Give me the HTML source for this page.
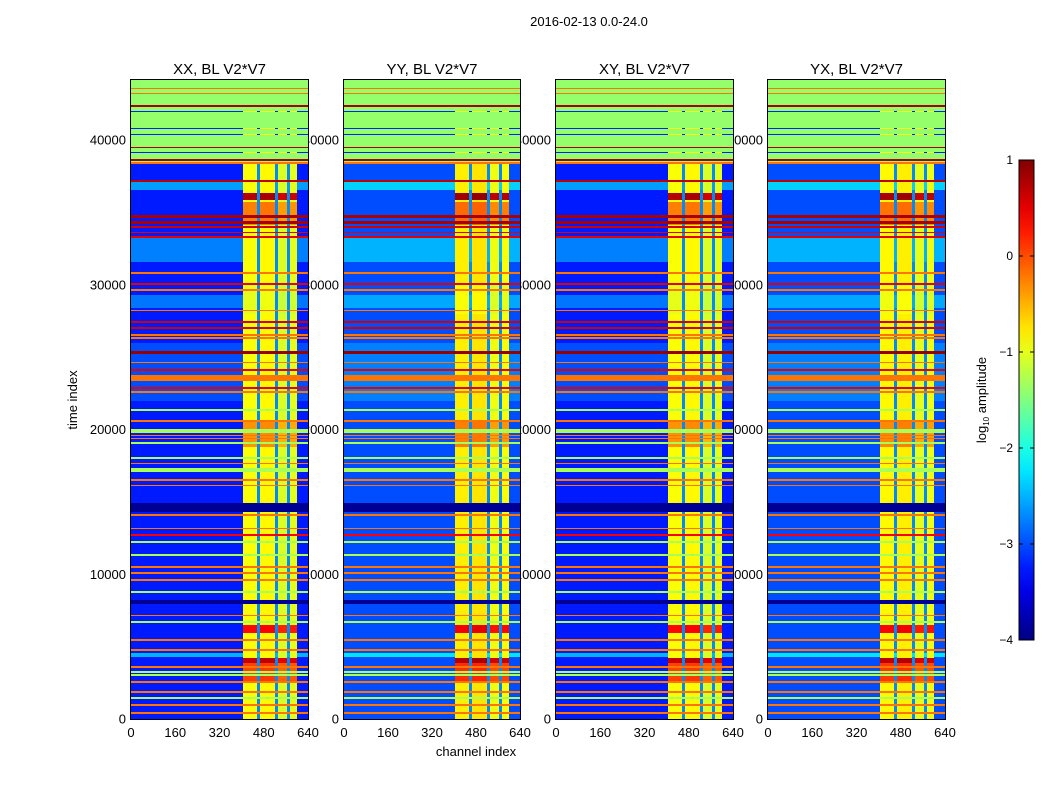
<!DOCTYPE html>
<html><head><meta charset="utf-8">
<style>
body{margin:0;background:#fff;width:1050px;height:800px;overflow:hidden;font-family:"Liberation Sans",sans-serif;}
#root{position:relative;width:1050px;height:800px;}
canvas{position:absolute;image-rendering:pixelated;}
svg{position:absolute;left:0;top:0;}
</style></head>
<body>
<div id="root">
<svg id="ov" width="1050" height="800"></svg>
</div>
<script>
// ---- data ----
const panelTitles = ["XX, BL V2*V7","YY, BL V2*V7","XY, BL V2*V7","YX, BL V2*V7"];
const panelBgShift = [0, 0.25, 0, 0.25];
const panelRfiShift = [0, 0.1, 0, 0.05];
const yTicks = [0,10000,20000,30000,40000];
const xTicks = [0,160,320,480,640];
const cbTicks = [1,0,-1,-2,-3,-4];
const flagStart = 38500;
const flagValue = -1.4;
// background bands [tStart, tEnd, value]
const bgBands = [[0,44150,-3.25],[36550,37100,-2.6],[31570,33230,-2.75],[28390,29290,-2.8],[4300,4550,-2.5],[22000,26000,-3.0]];
// RFI intensity bands [tStart, tEnd, value]
const rfiBands = [[0,44150,-0.95],[35850,36340,0.7],[34100,35700,-0.3],[18800,20590,-0.4],[5940,6490,0.3],[2490,4210,0.0],[3870,4210,0.6],[28000,30000,-1.05]];
// RFI channel columns [chStart, chEnd, offset]
const rfiCols = [[405,455,0.05],[467,520,0.1],[532,564,-0.1],[575,600,-0.05]];
const gapCols = [[455,467],[520,532],[564,575]];
const gapValue = -2.7;
// full-row stripes [time, width, value]
const stripes = [[38400,120,-0.2],[37165,100,0.7],[34700,200,0.8],[34300,250,0.8],[34000,150,0.6],[33640,80,0.5],[33300,80,0.5],
[30810,150,-0.2],[30050,80,0.5],[29640,100,-0.2],[28250,80,-0.2],[27425,80,0.6],[27010,80,0.6],[26530,80,-0.2],[26320,80,-0.2],
[25315,220,0.9],[24660,80,-0.2],[24110,80,0.5],[23555,400,-0.2],[22870,80,0.5],[22590,80,-0.2],
[21350,80,-1.3],[20590,80,-0.2],[19900,270,-1.3],[19620,70,-0.2],[19410,70,-0.2],[19070,80,-1.3],[18030,80,-1.3],[17680,80,-0.2],
[17200,280,-1.3],[16510,80,-0.2],[16160,80,-0.2],[14610,620,-3.9],[14090,80,-0.2],[13190,80,-0.2],[12710,80,0.4],[12230,80,-1.3],
[11330,80,-1.3],[10500,80,-0.2],[10090,80,-0.2],[9600,80,-0.2],[8770,80,-1.3],[8080,280,-3.9],[7180,80,-0.2],[6700,80,-1.3],
[5460,80,-0.2],[4770,80,-0.2],[3590,80,-0.2],[3250,80,-1.3],[3040,80,-1.3],[2560,80,-0.2],[1870,80,-0.2],[1450,80,-1.3],[970,80,-0.2],[410,80,-0.2]];
// stripes inside flagged region [time, width, value, bgOnly]
const flagStripes = [[43590,80,-0.2,0],[43240,80,-0.2,0],[42350,80,0.8,0],[42000,70,-3.2,1],[40830,70,-3.2,1],[40410,70,-3.2,1],[39510,80,0.8,0],[39170,70,-3.2,1],[38620,80,0.8,0]];

const T_MAX = 44150, CH_MAX = 640, V_MIN = -4, V_MAX = 1;
const panelX = [131,344,556,768], panelW = [177,176,177,177], panelTop = 80, panelBot = 719;

function jet(v){
  let t=(v-V_MIN)/(V_MAX-V_MIN); t=Math.max(0,Math.min(1,t));
  const c=x=>Math.round(255*Math.max(0,Math.min(1,x)));
  return [c(1.5-Math.abs(4*t-3)),c(1.5-Math.abs(4*t-2)),c(1.5-Math.abs(4*t-1))];
}
function inBand(list,t,def){let v=def;for(const b of list){if(t>=b[0]&&t<b[1])v=b[2];}return v;}
function colType(ch){
  for(const c of rfiCols) if(ch>=c[0]&&ch<c[1]) return {rfi:true,off:c[2]};
  for(const g of gapCols) if(ch>=g[0]&&ch<g[1]) return {gap:true};
  return {};
}
function value(p,t,ch){
  const ct=colType(ch);
  if(t>=flagStart){
    for(const s of flagStripes){ if(Math.abs(t-s[0])<=s[1]/2){ if(s[3]&&ct.rfi) return -0.9; return s[2]; } }
    return flagValue;
  }
  for(const s of stripes){ if(Math.abs(t-s[0])<=s[1]/2) return s[2]; }
  if(ct.rfi) return inBand(rfiBands,t,-0.95)+ct.off+panelRfiShift[p];
  const bg=inBand(bgBands,t,-3.25)+panelBgShift[p];
  if(ct.gap) return Math.max(bg,gapValue);
  return bg;
}
const root=document.getElementById('root');
const H=panelBot-panelTop;
const yPix=t=>panelBot-(t/T_MAX)*H;
for(let p=0;p<4;p++){
  const W=panelW[p];
  const cv=document.createElement('canvas');
  
  
  cv.width=W;cv.height=H;
  cv.style.left=panelX[p]+'px';cv.style.top=panelTop+'px';
  const ctx=cv.getContext('2d');const img=ctx.createImageData(W,H);
  for(let y=0;y<H;y++){
    const t=(H-y-0.5)/H*T_MAX;
    for(let x=0;x<W;x++){
      const ch=(x+0.5)/W*CH_MAX;
      const c=jet(value(p,t,ch));const i=(y*W+x)*4;
      img.data[i]=c[0];img.data[i+1]=c[1];img.data[i+2]=c[2];img.data[i+3]=255;
    }
  }
  ctx.putImageData(img,0,0);
  root.appendChild(cv);
}
// overlay
const NS='http://www.w3.org/2000/svg';
const ov=document.getElementById('ov');
function el(tag,attrs,txt){const e=document.createElementNS(NS,tag);for(const k in attrs)e.setAttribute(k,attrs[k]);if(txt!==undefined)e.textContent=txt;ov.appendChild(e);return e;}
let e;
e=el('text',{x:589,y:26,'font-size':13,'text-anchor':'middle'},'2016-02-13 0.0-24.0');


for(let p=0;p<4;p++){
  const x0=panelX[p],W=panelW[p];
  e=el('rect',{x:x0-0.5,y:panelTop-0.5,width:W+1,height:H+1,fill:'none',stroke:'#000','stroke-width':1});
  
  
  e=el('text',{x:x0+W/2,y:74,'font-size':15,'text-anchor':'middle'},panelTitles[p]);
  
  
  for(const v of yTicks){
    const y=yPix(v);
    el('line',{x1:x0,x2:x0+4,y1:y,y2:y,stroke:'#000'});
    el('line',{x1:x0+W-4,x2:x0+W,y1:y,y2:y,stroke:'#000'});
    e=el('text',{x:x0-5,y:y+4.5,'font-size':13,'text-anchor':'end'},String(v));
    
    
  }
  for(const v of xTicks){
    const x=x0+v/CH_MAX*W;
    el('line',{x1:x,x2:x,y1:panelBot,y2:panelBot-4,stroke:'#000'});
    el('line',{x1:x,x2:x,y1:panelTop,y2:panelTop+4,stroke:'#000'});
    e=el('text',{x:x,y:737,'font-size':13,'text-anchor':'middle'},String(v));
    
    
  }
}
e=el('text',{x:0,y:0,'font-size':13,'text-anchor':'middle',transform:'translate(77,400) rotate(-90)'},'time index');


e=el('text',{x:476,y:756,'font-size':13,'text-anchor':'middle'},'channel index');


// colorbar
const cbX=1019,cbW=15,cbTop=160,cbBot=640;
const defs=el('defs',{});
const grad=document.createElementNS(NS,'linearGradient');
grad.setAttribute('id','jetg');grad.setAttribute('x1','0');grad.setAttribute('y1','1');grad.setAttribute('x2','0');grad.setAttribute('y2','0');
defs.appendChild(grad);
for(let i=0;i<=20;i++){const c=jet(V_MIN+(V_MAX-V_MIN)*i/20);const s=document.createElementNS(NS,'stop');s.setAttribute('offset',i/20);s.setAttribute('stop-color','rgb('+c.join(',')+')');grad.appendChild(s);}
e=el('rect',{x:cbX,y:cbTop,width:cbW,height:cbBot-cbTop,fill:'url(#jetg)',stroke:'#000','stroke-width':1});


for(const v of cbTicks){
  const y=cbBot-(v-V_MIN)/(V_MAX-V_MIN)*(cbBot-cbTop);
  el('line',{x1:cbX,x2:cbX+4,y1:y,y2:y,stroke:'#000'});
  el('line',{x1:cbX+cbW-4,x2:cbX+cbW,y1:y,y2:y,stroke:'#000'});
  e=el('text',{x:1013,y:y+4,'font-size':12,'text-anchor':'end'},v<0?'\u2212'+Math.abs(v):String(v));
  
  
}
e=el('text',{x:0,y:0,'font-size':13,'text-anchor':'middle',transform:'translate(986,400) rotate(-90)'});


const ts1=document.createElementNS(NS,'tspan');ts1.textContent='log';e.appendChild(ts1);
const ts2=document.createElementNS(NS,'tspan');ts2.setAttribute('font-size','8');ts2.setAttribute('dy','3');ts2.textContent='10';e.appendChild(ts2);
const ts3=document.createElementNS(NS,'tspan');ts3.setAttribute('dy','-3');ts3.textContent=' amplitude';e.appendChild(ts3);
</script>
</body></html>
